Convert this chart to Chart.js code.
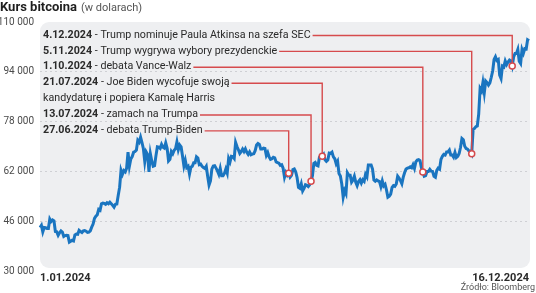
<!DOCTYPE html>
<html>
<head>
<meta charset="utf-8">
<script src="https://cdn.jsdelivr.net/npm/chart.js@4.4.1/dist/chart.umd.min.js"></script>
<style>
    body{ margin:0; background:#fff; }
</style>
</head>
<body>
<canvas id="btcChart" width="536" height="293"></canvas>
<script>

/* =========================
   DATA (USD, daily)
========================= */

const jan = [44200,44900,42800,44200,44100,43900,43900,46900,46100,46600,46300,42900,42800,41700,42500,43100,42700,41300,41600,41700,41600,39500,39800,40100,39900,41800,42100,42000,43300,42900,42600];
const feb = [43100,43200,43000,42600,42700,43100,44300,45300,47100,47800,48300,50000,49700,51800,52000,51900,51600,52100,51800,52300,51800,51300,50700,51600,51700,54500,57100,62500,61200];
const mar = [62400,62000,63200,68300,63800,66100,66900,68300,68500,69000,72100,71500,73100,71400,69400,65300,68400,67600,62000,67800,65500,63800,64000,67200,70000,69900,69500,70800,69900,69600,71300];
const apr = [69600,65500,66000,68500,67800,68900,69400,71600,69100,70600,70000,67100,63900,65700,63400,63800,61300,63500,63800,64900,64900,66800,66400,64300,64500,63800,63400,63100,63800,60600];
const may = [57800,59100,62900,63900,64000,63200,62300,61200,63100,60800,60800,61500,62900,61600,66300,65200,67000,66900,66300,71400,70100,69100,67900,68500,69300,68500,69400,68300,67600,68400,67500];
const jun = [67700,67800,68800,70600,71100,70800,69300,69300,69600,69500,67300,68200,66800,66000,66200,66700,66500,65200,65000,64800,64100,64300,63200,60300,61800,60900,61600,60300,60900,62700];
const jul = [62900,62000,60200,57000,56700,58200,55900,56700,57900,57700,57300,57900,59000,60800,64700,65000,64100,63900,66700,67200,67000,67600,65900,65400,65800,68000,67900,68300,66800,66200,64600];
const aug = [65400,61500,60700,58100,53900,56000,55000,61700,60900,60900,58700,59400,60600,58700,57600,58900,59500,58400,59500,59000,61200,60400,64200,64200,64200,62900,59400,59000,59400,59100,58900];
const sep = [57300,59100,57500,58000,56200,53900,54200,54900,57000,57600,57400,58100,60600,60000,59200,58200,60300,61800,62900,63200,63300,63600,63300,64300,63100,65200,65800,65900,65600,63300];
const oct = [62000,60600,60800,62100,62100,62800,62200,62100,60600,60300,62500,63200,62900,66000,67000,67600,67400,68400,68400,69000,67400,67400,66700,68200,66600,67000,67900,69900,72700,72300,70200];
const nov = [69500,69300,68700,68600,67800,75600,75900,76500,76700,80500,88700,87900,90600,87300,91100,90600,89800,90500,92300,94300,98000,98900,97700,98000,93000,91900,95900,95600,97500,96400];
const dec = [97200,97800,97500,95900,98800,99900,99900,101200,97400,96700,101200,100000,101500,101400,104300,104000];

const yTicks = [30000, 46000, 62000, 78000, 94000, 110000];

const eventDates = ['4.12.2024', '5.11.2024', '1.10.2024', '21.07.2024', '13.07.2024', '27.06.2024'];
const eventTexts = [
    ['Trump nominuje Paula Atkinsa na szefa SEC'],
    ['Trump wygrywa wybory prezydenckie'],
    ['debata Vance-Walz'],
    ['Joe Biden wycofuje swoją', 'kandydaturę i popiera Kamalę Harris'],
    ['zamach na Trumpa'],
    ['debata Trump-Biden']
];

/* build labels + series from the month arrays */
const months = [jan, feb, mar, apr, may, jun, jul, aug, sep, oct, nov, dec];
let labels = [];
let prices = [];

months.forEach(function(m, mi){
    m.forEach(function(v, di){
        labels.push((di + 1) + '.' + String(mi + 1).padStart(2, '0') + '.2024');
        prices.push(v);
    });
});

const RED = '#d64b4d';
const BLUE = '#1a75c0';

/* =========================
   PLUGIN: background box, texts, events
========================= */

const decorPlugin = {
    id: 'decor',

    beforeDraw(chart){
        const { ctx, chartArea: { left, right, top } } = chart;
        ctx.save();
        ctx.fillStyle = '#eeeff1';
        ctx.beginPath();
        ctx.roundRect(left, top, right - left + 1, 268 - top, 9);
        ctx.fill();

        // title
        ctx.textBaseline = 'middle';
        ctx.fillStyle = '#1e1e1e';
        ctx.font = 'bold 13px Roboto';
        ctx.fillText('Kurs bitcoina', 0, 8);
        let w = ctx.measureText('Kurs bitcoina').width;
        ctx.fillStyle = '#555';
        ctx.font = '11px Roboto';
        ctx.fillText('(w dolarach)', w + 4, 8.5);

        // source
        ctx.textAlign = 'right';
        ctx.font = '9px Roboto';
        ctx.fillStyle = '#555';
        ctx.fillText('Źródło: Bloomberg', 535, 288);
        ctx.restore();
    },

    afterDatasetsDraw(chart){
        const { ctx, scales: { x, y } } = chart;
        ctx.save();
        ctx.textBaseline = 'middle';

        let row = 0;
        eventDates.forEach(function(d, i){
            const idx = labels.indexOf(d);
            const px = x.getPixelForValue(idx);
            const py = y.getPixelForValue(prices[idx]);
            const rowY = 35 + row * 15.9;

            // text
            ctx.font = 'bold 10.7px Roboto';
            ctx.fillStyle = '#2a2a2a';
            ctx.fillText(d, 43, rowY);
            let tx = 43 + ctx.measureText(d).width;
            ctx.font = '10.7px Roboto';
            const first = ' - ' + eventTexts[i][0];
            ctx.fillText(first, tx, rowY);
            let endX = tx + ctx.measureText(first).width;

            for(let k = 1; k < eventTexts[i].length; k++){
                ctx.fillText(eventTexts[i][k], 43, rowY + k * 15.9);
            }

            // connector
            ctx.strokeStyle = RED;
            ctx.lineWidth = 1.4;
            ctx.beginPath();
            ctx.moveTo(endX + 2, rowY + 0.5);
            ctx.lineTo(px, rowY + 0.5);
            ctx.lineTo(px, py - 3);
            ctx.stroke();

            // marker
            ctx.fillStyle = '#fff';
            ctx.lineWidth = 1.5;
            ctx.beginPath();
            ctx.arc(px, py, 3, 0, Math.PI * 2);
            ctx.fill();
            ctx.stroke();

            row += eventTexts[i].length;
        });

        ctx.restore();
    }
};

/* =========================
   CHART
========================= */

const chart = new Chart(document.getElementById('btcChart'), {
    type: 'line',
    data: {
        labels: labels,
        datasets: [{
            data: prices,
            borderColor: BLUE,
            borderWidth: 3,
            pointRadius: 0,
            tension: 0,
            fill: false
        }]
    },
    options: {
        responsive: false,
        animation: false,
        events: [],
        layout: {
            padding: { top: 22, right: 7, bottom: 8, left: 0 }
        },
        plugins: {
            legend: { display: false },
            tooltip: { enabled: false }
        },
        scales: {
            x: {
                grid: { display: false, drawTicks: false },
                border: { display: false },
                ticks: {
                    autoSkip: false,
                    maxRotation: 0,
                    minRotation: 0,
                    align: 'inner',
                    padding: 0,
                    color: '#2a2a2a',
                    font: { family: 'Roboto', size: 11, weight: 'bold' },
                    callback: function(value, index, ticks){
                        if(index === 0 || index === ticks.length - 1){
                            return this.getLabelForValue(value);
                        }
                        return '';
                    }
                }
            },
            y: {
                min: 30000,
                max: 110000,
                afterBuildTicks: function(scale){
                    scale.ticks = yTicks.map(v => ({ value: v }));
                },
                afterFit: function(scale){
                    scale.width = 40;
                },
                grid: {
                    drawTicks: false,
                    color: function(c){
                        const v = c.tick && c.tick.value;
                        return (v === 30000 || v === 110000) ? 'rgba(0,0,0,0)' : '#cfd0d4';
                    }
                },
                border: { display: false, dash: [2, 3] },
                ticks: {
                    padding: 6,
                    color: '#4a4a4a',
                    font: { family: 'Roboto', size: 10 },
                    callback: function(v){
                        return String(v).replace(/\B(?=(\d{3})+(?!\d))/g, ' ');
                    }
                }
            }
        }
    },
    plugins: [decorPlugin]
});
</script>
</body>
</html>
